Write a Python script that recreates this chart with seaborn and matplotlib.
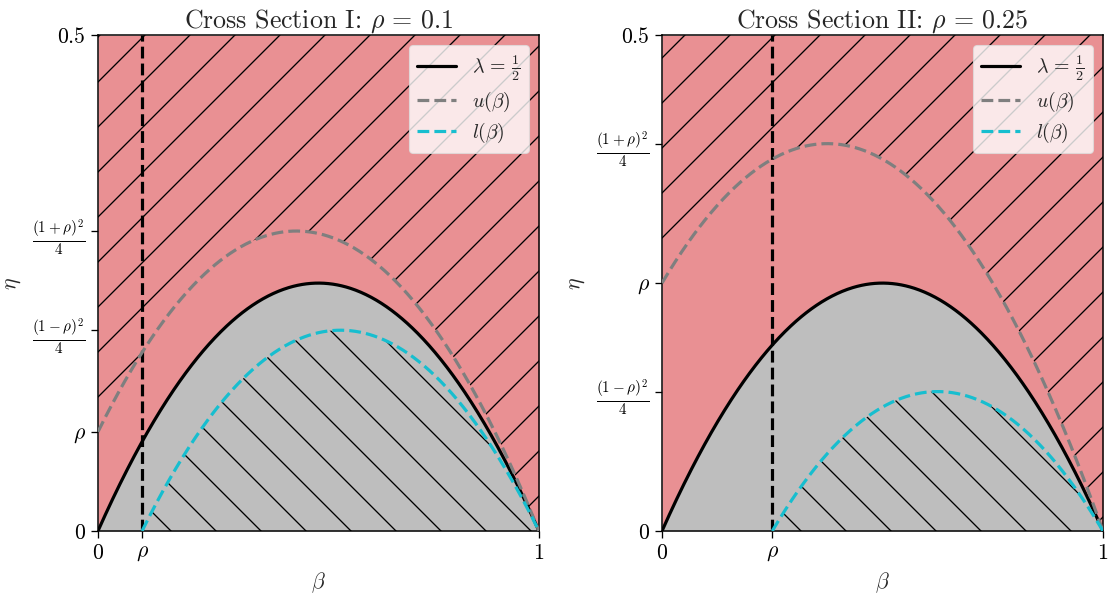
import numpy as np
import pandas as pd
import matplotlib
matplotlib.use("Agg")
import matplotlib.pyplot as plt
import seaborn as sns

# Cross-section parameters and labels
rho_values = [0.1, 0.25]
titles = [r"Cross Section I: $\rho\,=\,0.1$", r"Cross Section II: $\rho\,=\,0.25$"]
x_tick_labels = [r"$0$", r"$\rho$", r"$1$"]
y_tick_labels_base = [r"$0$", r"$\rho$", r"$\frac{(1-\rho)^2}{4}$",
                      r"$\frac{(1+\rho)^2}{4}$", r"$0.5$"]
eta_max = 0.5
legend_labels = [r"$\lambda\,=\,\frac{1}{2}$", r"$u(\beta)$", r"$l(\beta)$"]

RED_FILL = "#e99093"
GREY_FILL = "#bebebe"
U_COLOR = "#7f7f7f"
L_COLOR = "#17becf"

DPI = 270
sns.set_style("ticks")
plt.rcParams.update({
    "font.family": "serif",
    "font.serif": ["cmr10", "DejaVu Serif"],
    "mathtext.fontset": "cm",
    "axes.formatter.use_mathtext": True,
    "axes.linewidth": 0.4,
    "xtick.major.width": 0.35,
    "ytick.major.width": 0.35,
    "xtick.major.size": 1.8,
    "ytick.major.size": 1.8,
    "xtick.labelsize": 5.8,
    "ytick.labelsize": 5.8,
    "axes.labelsize": 5.8,
    "axes.titlesize": 6.9,
    "hatch.linewidth": 0.35,
    "axes.edgecolor": "black",
    "xtick.color": "black",
    "ytick.color": "black",
})

fig, axes = plt.subplots(1, 2, figsize=(1113 / DPI, 596 / DPI), dpi=DPI)
fig.subplots_adjust(left=0.088, right=0.991, bottom=0.109, top=0.941, wspace=0.279)

beta = np.linspace(0, 1, 600)

for ax, rho, title in zip(axes, rho_values, titles):
    lam = beta * (1 - beta)                 # lambda = 1/2 boundary
    upper = (beta + rho) * (1 - beta)       # u(beta)
    beta_l = np.linspace(rho, 1, 600)
    lower = (beta_l - rho) * (1 - beta_l)   # l(beta)

    # Regions
    ax.fill_between(beta, lam, eta_max, color=RED_FILL, linewidth=0, zorder=1)
    ax.fill_between(beta, 0, lam, color=GREY_FILL, linewidth=0, zorder=1)
    ax.fill_between(beta, upper, eta_max, facecolor="none", edgecolor="black",
                    hatch="//", linewidth=0, zorder=2)
    ax.fill_between(beta_l, 0, lower, facecolor="none", edgecolor="black",
                    hatch="\\\\", linewidth=0, zorder=2)

    df_lam = pd.DataFrame({"beta": beta, "eta": lam})
    df_up = pd.DataFrame({"beta": beta, "eta": upper})
    df_lo = pd.DataFrame({"beta": beta_l, "eta": lower})

    sns.lineplot(data=df_lam, x="beta", y="eta", ax=ax, color="black", lw=0.85,
                 label=legend_labels[0], zorder=4, sort=False)
    sns.lineplot(data=df_up, x="beta", y="eta", ax=ax, color=U_COLOR, lw=0.85,
                 ls="--", label=legend_labels[1], zorder=4, sort=False)
    sns.lineplot(data=df_lo, x="beta", y="eta", ax=ax, color=L_COLOR, lw=0.85,
                 ls="--", label=legend_labels[2], zorder=4, sort=False)

    ax.axvline(rho, color="black", ls="--", lw=0.85, zorder=3)

    ax.set_xlim(0, 1)
    ax.set_ylim(0, eta_max)
    ax.set_xticks([0, rho, 1])
    ax.set_xticklabels(x_tick_labels)
    y_ticks = [0, rho, (1 - rho) ** 2 / 4, (1 + rho) ** 2 / 4, eta_max]
    ax.set_yticks(y_ticks)
    ax.set_yticklabels(y_tick_labels_base)
    ax.tick_params(axis="both", pad=1.5)
    for side in ["top", "right", "left", "bottom"]:
        ax.spines[side].set_visible(True)

    ax.set_xlabel(r"$\beta$", labelpad=2)
    ax.set_ylabel(r"$\eta$", labelpad=2.5)
    ax.set_title(title, pad=2)

    leg = ax.legend(loc="upper right", fontsize=5.3, framealpha=0.8,
                    handlelength=2.0, borderpad=0.4, labelspacing=0.35,
                    handletextpad=0.8, fancybox=True)
    leg.get_frame().set_linewidth(0.3)
    leg.get_frame().set_edgecolor("#dddddd")
    leg.set_zorder(10)

fig.savefig("out.png", dpi=DPI)
